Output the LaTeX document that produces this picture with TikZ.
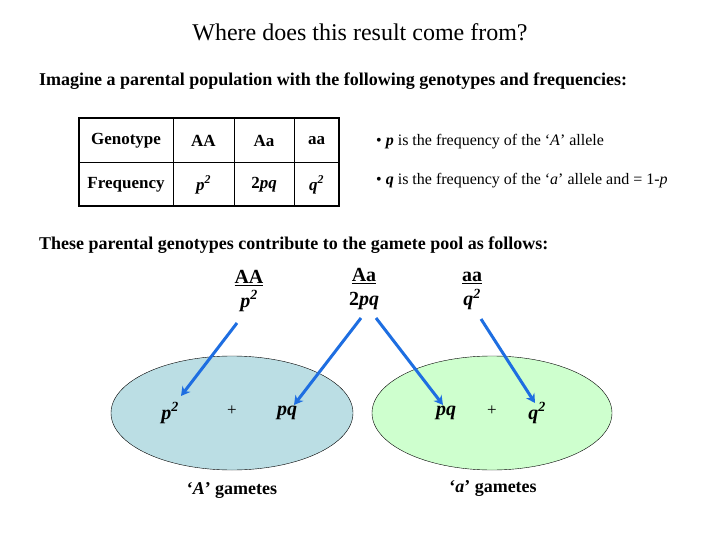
\documentclass[tikz,border=0pt]{standalone}
\usepackage{fontspec}
\setmainfont{Liberation Serif}
\usetikzlibrary{arrows.meta}
\definecolor{arr}{RGB}{30,110,225}
\definecolor{lblue}{RGB}{187,222,228}
\definecolor{lgreen}{RGB}{206,255,206}
\begin{document}
\begin{tikzpicture}[x=1pt,y=-1pt,
  ar/.style={draw=arr,line width=3pt,-{Stealth[length=9pt,width=10pt]}},
  tc/.style={font=\fontsize{17}{19}\selectfont\bfseries},
  lb/.style={font=\fontsize{20}{24}\selectfont\bfseries,align=center},
  bl/.style={font=\fontsize{16}{18}\selectfont,anchor=west}]
\useasboundingbox (0,0) rectangle (720,540);
\node (title) at (360,32) {\fontsize{24}{28}\selectfont Where does this result come from?};
\node[anchor=west,inner sep=0] (l1) at (39,81) {\fontsize{18}{21}\selectfont\bfseries Imagine a parental population with the following genotypes and frequencies:};
\node[anchor=west,inner sep=0] (l2) at (39,245) {\fontsize{18}{21}\selectfont\bfseries These parental genotypes contribute to the gamete pool as follows:};
% table
\draw[line width=2pt] (79,118) rectangle (339,206);
\draw[line width=1pt] (79,163) -- (339,163) (173,118) -- (173,206) (234,118) -- (234,206) (294,118) -- (294,206);
\node[tc] (g) at (126,141) {Genotype};
\node[tc] (f) at (126,185) {Frequency};
\node[tc] (aa1) at (203.5,141) {AA};
\node[tc] (aa2) at (264,141) {Aa};
\node[tc] (aa3) at (316.5,141) {aa};
\node[tc] (f1) at (203.5,185) {\itshape p\textsuperscript{2}};
\node[tc] (f2) at (264,185) {2\itshape pq};
\node[tc] (f3) at (316.5,185) {\itshape q\textsuperscript{2}};
\node[bl,inner sep=0] (b1) at (376,142) {• \textit{\textbf{p}} is the frequency of the ‘\textit{A}’ allele};
\node[bl,inner sep=0] (b2) at (376,181) {• \textit{\textbf{q}} is the frequency of the ‘\textit{a}’ allele and = 1-\textit{p}};
% ellipses
\draw[fill=lblue] (232,413) ellipse [x radius=121,y radius=57];
\draw[fill=lgreen] (492,413) ellipse [x radius=120,y radius=57];
% top labels
\node[lb] (tAA) at (249,291) {\underline{AA}\\\itshape p\textsuperscript{2}};
\node[lb] (tAa) at (364,289) {\underline{Aa}\\2\itshape pq};
\node[lb] (taa) at (472,291) {\underline{aa}\\\itshape q\textsuperscript{2}};
% gametes
\node[lb] (gp2) at (170,413) {\itshape p\textsuperscript{2}};
\node (plus1) at (232,411) {\fontsize{17}{19}\selectfont +};
\node[lb] (gpq1) at (287,413) {\itshape pq};
\node[lb] (gpq2) at (446,413) {\itshape pq};
\node (plus2) at (492,411) {\fontsize{17}{19}\selectfont +};
\node[lb] (gq2) at (537,413) {\itshape q\textsuperscript{2}};
\node[font=\fontsize{18}{20}\selectfont\bfseries] (ga) at (232,490) {‘\textit{A}’ gametes};
\node[font=\fontsize{18}{20}\selectfont\bfseries] (gb) at (493,488) {‘\textit{a}’ gametes};
% arrows
\coordinate (s1) at (237,323); \coordinate (e1) at (181,396);
\coordinate (s2) at (361,318); \coordinate (e2) at (294,405);
\coordinate (s3) at (376,318); \coordinate (e3) at (443,405);
\coordinate (s4) at (481,319); \coordinate (e4) at (535,403);
\draw[ar] (s1) -- (e1);
\draw[ar] (s2) -- (e2);
\draw[ar] (s3) -- (e3);
\draw[ar] (s4) -- (e4);
\end{tikzpicture}
\end{document}
